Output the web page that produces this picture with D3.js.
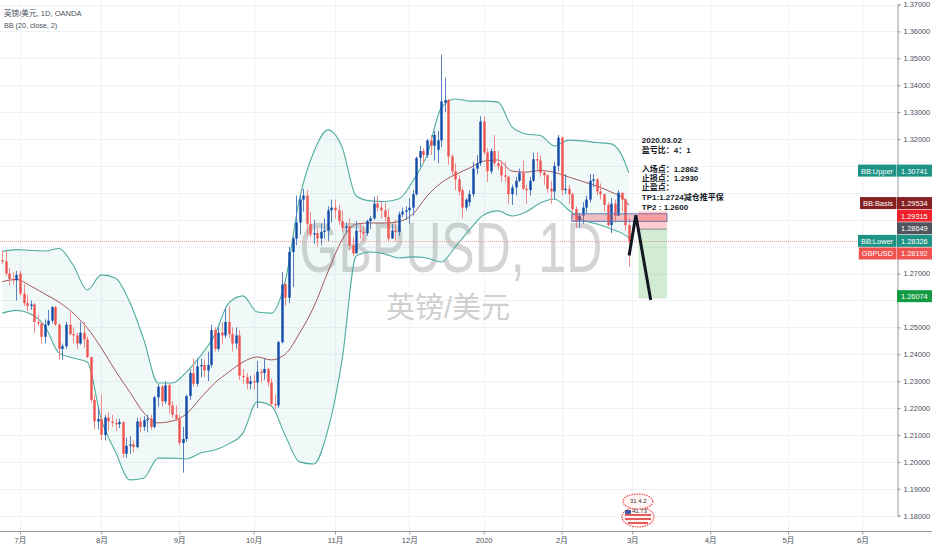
<!DOCTYPE html>
<html><head><meta charset="utf-8">
<script src="https://cdn.jsdelivr.net/npm/d3@7/dist/d3.min.js"></script>
<style>
html,body{margin:0;padding:0;background:#fff;}
svg{display:block;}
text{font-family:"Liberation Sans","Noto Sans CJK SC",sans-serif;}
</style></head><body>
<svg id="chart" width="932" height="550"></svg>
<script>
// ---------------- DATA ----------------
const symbolTitle = "英镑/美元, 1D, OANDA";
const indicatorTitle = "BB (20, close, 2)";
const watermarkMain = "GBPUSD, 1D";
const watermarkSub = "英镑/美元";
const firstDate = "2019-06-24";
const holidays = ["2019-12-25", "2020-01-01"];
const monthLabels = ["7月","8月","9月","10月","11月","12月","2020","2月","3月","4月","5月","6月"];
const priceTicks = [1.18,1.19,1.20,1.21,1.22,1.23,1.24,1.25,1.26,1.27,1.28,1.29,1.30,1.31,1.32,1.33,1.34,1.35,1.36,1.37];

const opens = [1.2750,1.2745,1.2700,1.2680,1.2675,1.2700,1.2625,1.2590,1.2580,1.2585,1.2520,1.2515,1.2465,1.2510,1.2525,1.2575,1.2510,1.2420,1.2430,1.2510,1.2475,1.2470,1.2440,1.2480,1.2455,1.2390,1.2230,1.2150,
1.2160,1.2100,1.2165,1.2150,1.2145,1.2140,1.2148,1.2030,1.2060,1.2065,1.2055,1.2150,1.2130,1.2155,1.2160,1.2130,1.2240,1.2280,1.2225,1.2285,1.2210,1.2175,
1.2160,1.2070,1.2085,1.2245,1.2330,1.2290,1.2355,1.2360,1.2340,1.2360,1.2490,1.2420,1.2480,1.2470,1.2520,1.2475,1.2440,1.2470,1.2320,1.2315,1.2290,
1.2300,1.2295,1.2335,1.2330,1.2345,1.2295,1.2215,1.2210,1.2445,1.2660,1.2610,1.2780,1.2830,1.2890,1.2975,1.2990,1.2885,1.2845,1.2850,1.2830,1.2855,1.2860,1.2935,
1.2945,1.2935,1.2895,1.2870,1.2875,1.2805,1.2775,1.2860,1.2855,1.2850,1.2895,1.2905,1.2960,1.2945,1.2935,1.2910,1.2830,1.2860,1.2855,1.2920,1.2930,
1.2935,1.2945,1.2995,1.3130,1.3155,1.3140,1.3195,1.3175,1.3160,1.3195,1.3335,1.3345,1.3135,1.3080,1.3050,1.3010,1.2945,1.2965,1.2995,1.3090,1.3110,
1.3265,1.3150,1.3080,1.3155,1.3110,1.3100,1.3065,1.3060,1.2995,1.3020,1.3045,1.3075,1.3015,1.3010,1.3045,1.3125,1.3120,1.3075,1.3065,1.3015,1.3005,1.3100,
1.3205,1.3010,1.3015,1.2995,1.2940,1.2895,1.2915,1.2945,1.2975,1.3045,1.3050,1.3005,1.2995,1.2955,1.2880,1.2960,1.2915,1.3000,1.2975,1.2880];
const highs = [1.2785,1.2785,1.2720,1.2705,1.2710,1.2710,1.2660,1.2620,1.2600,1.2590,1.2545,1.2520,1.2530,1.2565,1.2580,1.2580,1.2515,1.2440,1.2520,1.2555,1.2500,1.2480,1.2520,1.2520,1.2465,1.2390,1.2250,1.2205,
1.2250,1.2175,1.2185,1.2175,1.2160,1.2160,1.2150,1.2090,1.2095,1.2080,1.2165,1.2165,1.2170,1.2175,1.2175,1.2245,1.2290,1.2285,1.2300,1.2290,1.2225,1.2210,
1.2175,1.2130,1.2250,1.2345,1.2385,1.2385,1.2385,1.2380,1.2410,1.2510,1.2500,1.2500,1.2520,1.2570,1.2580,1.2500,1.2500,1.2490,1.2345,1.2330,1.2320,
1.2325,1.2375,1.2345,1.2385,1.2350,1.2310,1.2250,1.2450,1.2705,1.2665,1.2800,1.2840,1.2990,1.2990,1.3015,1.3010,1.2930,1.2900,1.2870,1.2885,1.2905,1.2950,1.2975,
1.2975,1.2955,1.2935,1.2890,1.2905,1.2835,1.2895,1.2885,1.2875,1.2900,1.2915,1.2985,1.2990,1.2965,1.2965,1.2940,1.2885,1.2900,1.2930,1.2945,1.2950,
1.2980,1.3010,1.3135,1.3175,1.3165,1.3200,1.3215,1.3230,1.3230,1.3514,1.3428,1.3350,1.3145,1.3110,1.3065,1.3020,1.2980,1.3010,1.3115,1.3140,1.3285,
1.3285,1.3165,1.3165,1.3215,1.3155,1.3120,1.3115,1.3060,1.3030,1.3060,1.3090,1.3120,1.3030,1.3060,1.3150,1.3150,1.3140,1.3085,1.3070,1.3045,1.3115,1.3215,
1.3210,1.3070,1.3030,1.3000,1.2950,1.2925,1.2965,1.2990,1.3070,1.3070,1.3055,1.3035,1.2995,1.2965,1.2980,1.2975,1.3010,1.3000,1.2980,1.2905];
const lows = [1.2735,1.2690,1.2655,1.2660,1.2600,1.2615,1.2580,1.2560,1.2565,1.2480,1.2505,1.2440,1.2440,1.2505,1.2515,1.2505,1.2380,1.2380,1.2420,1.2470,1.2440,1.2420,1.2435,1.2425,1.2385,1.2220,1.2120,1.2120,
1.2080,1.2080,1.2115,1.2130,1.2115,1.2125,1.2015,1.2015,1.2030,1.2035,1.2050,1.2110,1.2115,1.2110,1.2120,1.2125,1.2205,1.2205,1.2215,1.2180,1.2165,1.2150,
1.2060,1.1960,1.2075,1.2230,1.2280,1.2280,1.2315,1.2315,1.2300,1.2350,1.2410,1.2410,1.2440,1.2460,1.2460,1.2410,1.2420,1.2305,1.2290,1.2270,1.2270,
1.2270,1.2200,1.2295,1.2305,1.2280,1.2205,1.2195,1.2200,1.2440,1.2580,1.2590,1.2650,1.2805,1.2845,1.2930,1.2840,1.2835,1.2810,1.2800,1.2805,1.2830,1.2820,1.2890,
1.2905,1.2880,1.2855,1.2850,1.2785,1.2765,1.2775,1.2830,1.2820,1.2840,1.2865,1.2900,1.2930,1.2905,1.2895,1.2820,1.2830,1.2820,1.2840,1.2910,1.2900,
1.2885,1.2915,1.2990,1.3095,1.3110,1.3130,1.3140,1.3120,1.3110,1.3170,1.3300,1.3105,1.3065,1.3010,1.2990,1.2905,1.2935,1.2950,1.2985,1.3070,1.3100,
1.3140,1.3040,1.3070,1.3100,1.3085,1.3040,1.3040,1.2960,1.2955,1.2990,1.3040,1.3010,1.2960,1.2990,1.3040,1.3085,1.3060,1.3030,1.3000,1.2960,1.2975,1.3080,
1.2990,1.2995,1.2960,1.2905,1.2870,1.2870,1.2885,1.2925,1.2965,1.3020,1.2990,1.2975,1.2930,1.2875,1.2850,1.2890,1.2915,1.2930,1.2860,1.2725];
const closes = [1.2745,1.2700,1.2680,1.2675,1.2695,1.2625,1.2590,1.2580,1.2585,1.2520,1.2515,1.2465,1.2510,1.2525,1.2575,1.2510,1.2420,1.2430,1.2510,1.2475,1.2470,1.2440,1.2480,1.2455,1.2390,1.2230,1.2150,1.2160,
1.2100,1.2165,1.2150,1.2145,1.2140,1.2148,1.2030,1.2060,1.2065,1.2055,1.2150,1.2130,1.2155,1.2160,1.2130,1.2240,1.2280,1.2225,1.2285,1.2210,1.2175,1.2160,
1.2070,1.2085,1.2245,1.2330,1.2290,1.2355,1.2360,1.2340,1.2360,1.2490,1.2420,1.2480,1.2470,1.2520,1.2475,1.2440,1.2470,1.2320,1.2315,1.2290,1.2300,
1.2295,1.2335,1.2330,1.2345,1.2295,1.2215,1.2210,1.2445,1.2660,1.2610,1.2780,1.2830,1.2890,1.2975,1.2990,1.2885,1.2845,1.2850,1.2830,1.2855,1.2860,1.2935,1.2945,
1.2935,1.2895,1.2870,1.2875,1.2805,1.2775,1.2860,1.2855,1.2850,1.2895,1.2905,1.2960,1.2945,1.2935,1.2910,1.2830,1.2860,1.2855,1.2920,1.2930,1.2935,
1.2945,1.2995,1.3130,1.3155,1.3140,1.3195,1.3175,1.3215,1.3195,1.3340,1.3345,1.3135,1.3080,1.3050,1.3005,1.2945,1.2975,1.2995,1.3090,1.3110,1.3265,
1.3150,1.3080,1.3155,1.3110,1.3100,1.3065,1.3060,1.2995,1.3020,1.3045,1.3075,1.3015,1.3010,1.3045,1.3125,1.3120,1.3075,1.3065,1.3015,1.3005,1.3100,1.3205,
1.3010,1.3015,1.2995,1.2940,1.2895,1.2915,1.2945,1.2975,1.3045,1.3050,1.3005,1.2995,1.2955,1.2880,1.2960,1.2915,1.3000,1.2975,1.2880,1.28192];

const bbIdx = [0,4,8,12,16,20,24,28,32,36,40,44,48,52,56,60,64,68,72,76,80,84,88,92,96,100,104,108,112,116,120,124,128,132,136,140,144,148,152,156,160,164,168,172,176,177];
const bbUpper = [1.2782,1.2789,1.2786,1.2784,1.2793,1.2732,1.2639,1.2695,1.2683,1.2594,1.2453,1.2293,1.2293,1.2334,1.2394,1.2472,1.2591,1.2617,1.2557,1.2553,1.2676,1.2981,1.3152,1.3234,1.3170,1.2988,1.2970,1.2968,1.2977,1.3044,1.3141,1.3315,1.3349,1.3341,1.3341,1.3338,1.3245,1.3219,1.3213,1.3174,1.3196,1.3193,1.3187,1.3182,1.3111,1.30741];
const bbBasis = [1.2670,1.2678,1.2654,1.2624,1.2594,1.2553,1.2498,1.2423,1.2338,1.2260,1.2182,1.2145,1.2152,1.2178,1.2237,1.2293,1.2334,1.2371,1.2390,1.2379,1.2401,1.2479,1.2576,1.2706,1.2825,1.2884,1.2888,1.2888,1.2893,1.2921,1.2988,1.3037,1.3068,1.3092,1.3118,1.3122,1.3081,1.3077,1.3083,1.3076,1.3059,1.3042,1.3025,1.3003,1.2973,1.29534];
const bbLower = [1.2553,1.2563,1.2550,1.2505,1.2405,1.2386,1.2371,1.2156,1.2037,1.1933,1.1940,1.2014,1.2014,1.2011,1.2033,1.2044,1.2067,1.2107,1.2223,1.2208,1.2096,1.2000,1.1992,1.2119,1.2379,1.2765,1.2780,1.2773,1.2758,1.2762,1.2758,1.2743,1.2799,1.2862,1.2918,1.2933,1.2914,1.2929,1.2962,1.2977,1.2936,1.2899,1.2884,1.2866,1.2843,1.28326];

// drawings (bar index, price)
const entryPrice = 1.28649, stopPrice = 1.29315, targetPrice = 1.26074;
const posFromIdx = 179.7, posToIdx = 187.8;
const zoneFromIdx = 160.9, zoneToIdx = 187.8, zoneTop = 1.2922, zoneBottom = 1.2894;
const arrowIdx = [177.1, 179.0, 183.2];
const arrowPrice = [1.2767, 1.2917, 1.2602];
const noteIdx = 180.7, notePrice = 1.3184;
const noteLines = ["2020.03.02","盈亏比：4：1","","入场点：1.2862","止损点：1.2930","止盈点：","TP1:1.2724减仓推平保","TP2 : 1.2600"];
const badgeTop = "31 4.2", badgeBottom = "41.73";

// ---------------- CHART ----------------
const svg = d3.select("#chart");
const W = 932, H = 550, plotR = 897, plotB = 531;

// trading days (weekdays, minus holidays)
const dates = [];
{
  const hs = new Set(holidays);
  const d = new Date(firstDate + "T00:00:00Z");
  const end = new Date("2020-06-30T00:00:00Z");
  while (d <= end) {
    const wd = d.getUTCDay();
    const s = d.toISOString().slice(0, 10);
    if (wd !== 0 && wd !== 6 && !hs.has(s)) dates.push(s);
    d.setUTCDate(d.getUTCDate() + 1);
  }
}
const monthIdx = [];
dates.forEach((s, i) => { if (i > 0 && s.slice(5, 7) !== dates[i - 1].slice(5, 7)) monthIdx.push(i); });

const x = d3.scaleLinear().domain([5, 178]).range([20, 632.3]);
const y = d3.scaleLinear().domain([1.18, 1.37]).range([515.7, 4.5]);

svg.append("rect").attr("width", W).attr("height", H).attr("fill", "#ffffff");
svg.append("clipPath").attr("id", "clip").append("rect").attr("x", 0).attr("y", 0).attr("width", plotR).attr("height", plotB);
const plot = svg.append("g").attr("clip-path", "url(#clip)");

// grid
const gridCol = "#eef1f5";
plot.append("g").selectAll("line").data(priceTicks).join("line")
  .attr("x1", 0).attr("x2", plotR)
  .attr("y1", d => Math.round(y(d)) + 0.5).attr("y2", d => Math.round(y(d)) + 0.5)
  .attr("stroke", gridCol).attr("stroke-width", 1);
plot.append("g").selectAll("line").data(monthIdx.slice(0, monthLabels.length)).join("line")
  .attr("y1", 0).attr("y2", plotB)
  .attr("x1", d => Math.round(x(d)) + 0.5).attr("x2", d => Math.round(x(d)) + 0.5)
  .attr("stroke", gridCol).attr("stroke-width", 1);

// watermark (horizontally condensed by a transform so its box matches the glyphs)
const wmG = plot.append("g");
const wmT = wmG.append("text").attr("x", 0).attr("y", 0).attr("text-anchor", "middle")
  .attr("font-size", 70).attr("fill", "#d4d4d4").attr("font-family", "Roboto, sans-serif")
  .text(watermarkMain);
const wmW = wmT.node().getComputedTextLength();
wmG.attr("transform", `translate(451,272) scale(${303 / wmW},1)`);
plot.append("text").attr("x", 448).attr("y", 318).attr("text-anchor", "middle")
  .attr("font-size", 29).attr("fill", "#cfcfcf").attr("font-family", "'Noto Sans CJK SC', sans-serif")
  .text(watermarkSub);

// Bollinger bands
const bbK = d3.range(bbIdx.length);
const curve = d3.curveMonotoneX;
plot.append("path").datum(bbK)
  .attr("d", d3.area().curve(curve).x(k => x(bbIdx[k])).y0(k => y(bbLower[k])).y1(k => y(bbUpper[k])))
  .attr("fill", "rgba(38,166,154,0.07)");
[[bbUpper, "#4fae9f"], [bbLower, "#4fae9f"], [bbBasis, "#9b4545"]].forEach(([arr, col]) => {
  plot.append("path").datum(bbK)
    .attr("d", d3.line().curve(curve).x(k => x(bbIdx[k])).y(k => y(arr[k])))
    .attr("fill", "none").attr("stroke", col).attr("stroke-width", arr === bbBasis ? 0.9 : 1.1);
});

// last price dotted line
const lastClose = closes[closes.length - 1];
plot.append("line").attr("x1", 0).attr("x2", plotR)
  .attr("y1", Math.round(y(lastClose)) + 0.5).attr("y2", Math.round(y(lastClose)) + 0.5)
  .attr("stroke", "#f59a9a").attr("stroke-width", 1).attr("stroke-dasharray", "1,1");

// candles
const idx = d3.range(closes.length);
const bw = 2.4;
const upCol = "#0f4aa8", dnCol = "#ef5350";
plot.append("g").selectAll("line").data(idx).join("line")
  .attr("x1", i => Math.round(x(i)) + 0.5).attr("x2", i => Math.round(x(i)) + 0.5)
  .attr("y1", i => y(highs[i])).attr("y2", i => y(lows[i]))
  .attr("stroke", i => closes[i] >= opens[i] ? "#5a80c4" : "#f08a88").attr("stroke-width", 1);
plot.append("g").selectAll("rect").data(idx).join("rect")
  .attr("x", i => Math.round(x(i)) + 0.5 - bw / 2).attr("width", bw)
  .attr("y", i => y(Math.max(opens[i], closes[i])))
  .attr("height", i => Math.max(1, Math.abs(y(opens[i]) - y(closes[i]))))
  .attr("fill", i => closes[i] >= opens[i] ? upCol : dnCol);

// rectangle zone drawing
plot.append("rect")
  .attr("x", x(zoneFromIdx)).attr("width", x(zoneToIdx) - x(zoneFromIdx))
  .attr("y", y(zoneTop)).attr("height", y(zoneBottom) - y(zoneTop))
  .attr("fill", "rgba(242,80,90,0.35)").attr("stroke", "#5b7fbf").attr("stroke-width", 1);

// short position tool
plot.append("rect").attr("x", x(posFromIdx)).attr("width", x(posToIdx) - x(posFromIdx))
  .attr("y", y(stopPrice)).attr("height", y(entryPrice) - y(stopPrice))
  .attr("fill", "rgba(242,54,69,0.25)");
plot.append("rect").attr("x", x(posFromIdx)).attr("width", x(posToIdx) - x(posFromIdx))
  .attr("y", y(entryPrice)).attr("height", y(targetPrice) - y(entryPrice))
  .attr("fill", "rgba(76,175,80,0.25)");
plot.append("line").attr("x1", x(posFromIdx)).attr("x2", x(posToIdx))
  .attr("y1", y(entryPrice)).attr("y2", y(entryPrice)).attr("stroke", "#8a8f99").attr("stroke-width", 1);

// arrow drawing
plot.append("path").datum(d3.range(arrowIdx.length))
  .attr("d", d3.line().x(k => x(arrowIdx[k])).y(k => y(arrowPrice[k])))
  .attr("fill", "none").attr("stroke", "#131722").attr("stroke-width", 3).attr("stroke-linejoin", "miter");

// note (one text per line)
const noteG = plot.append("g");
noteLines.forEach((t, k) => {
  if (!t) return;
  noteG.append("text").attr("x", x(noteIdx)).attr("y", y(notePrice) + k * 9.4 + (k === noteLines.length - 1 ? 0.8 : 0))
    .attr("font-size", 8.0).attr("font-weight", "bold").attr("fill", "#131722").text(t);
});

// badge (bottom)
const st = plot.append("g").attr("transform", "translate(638,509)");
st.append("ellipse").attr("cx", 0).attr("cy", 8).attr("rx", 16).attr("ry", 10)
  .attr("fill", "#fff5f5").attr("stroke", "#e84c4c").attr("stroke-width", 1.2).attr("stroke-dasharray", "1.5,1");
st.append("ellipse").attr("cx", 0).attr("cy", -7.5).attr("rx", 15).attr("ry", 7.5)
  .attr("fill", "#fff5f5").attr("stroke", "#e84c4c").attr("stroke-width", 1.2).attr("stroke-dasharray", "1.5,1");
st.append("rect").attr("x", -13).attr("y", 1).attr("width", 6).attr("height", 4).attr("fill", "#3d5aa8");
st.append("rect").attr("x", -13).attr("y", 5).attr("width", 26).attr("height", 2).attr("fill", "#e85a5a");
st.append("rect").attr("x", -13).attr("y", 9).attr("width", 26).attr("height", 2).attr("fill", "#e85a5a");
st.append("rect").attr("x", -10).attr("y", 13).attr("width", 20).attr("height", 2).attr("fill", "#e85a5a");
st.append("text").attr("x", -8).attr("y", -6).attr("font-size", 6).attr("fill", "#333").text(badgeTop);
st.append("text").attr("x", -6).attr("y", 4).attr("font-size", 6).attr("fill", "#333").text(badgeBottom);

// ---------------- AXES ----------------
svg.append("rect").attr("x", plotR).attr("y", 0).attr("width", W - plotR).attr("height", H).attr("fill", "#fff");
svg.append("rect").attr("x", 0).attr("y", plotB).attr("width", W).attr("height", H - plotB).attr("fill", "#fff");

// value labels on price scale (positions de-overlapped)
const vLabels = [
  {v: bbUpper[bbUpper.length - 1], col: "#1f9386", tag: "BB:Upper"},
  {v: bbBasis[bbBasis.length - 1], col: "#862020", tag: "BB:Basis"},
  {v: stopPrice, col: "#f0222b", tag: null},
  {v: entryPrice, col: "#50545e", tag: null},
  {v: bbLower[bbLower.length - 1], col: "#1f9386", tag: "BB:Lower"},
  {v: lastClose, col: "#ef5350", tag: "GBPUSD"},
  {v: targetPrice, col: "#139a43", tag: null}
].sort((a, b) => b.v - a.v);
const lh = 12.6;
let prev = -1e9;
vLabels.forEach(l => { let c = y(l.v); if (c < prev + lh) c = prev + lh; l.c = c; prev = c; });
vLabels.forEach(l => l.c -= 2);

// axis tick labels hidden where a value label sits
const visibleTicks = priceTicks.filter(t => vLabels.every(l => Math.abs(y(t) - l.c) > lh * 0.95));
const yAxis = svg.append("g").attr("transform", `translate(${plotR + 0.5},0)`)
  .call(d3.axisRight(y).tickValues(visibleTicks).tickFormat(d3.format(".5f")).tickSize(3).tickPadding(3));
yAxis.select(".domain").attr("stroke", "#9598a1");
yAxis.selectAll(".tick line").attr("stroke", "#9598a1");
yAxis.selectAll(".tick text").attr("font-size", 7.4).attr("fill", "#4a4f5a").attr("font-family", "'Liberation Sans', sans-serif");

const xAxis = svg.append("g").attr("transform", `translate(0,${plotB + 0.5})`)
  .call(d3.axisBottom(x).tickValues(monthIdx.slice(0, monthLabels.length)).tickFormat((d, i) => monthLabels[i]).tickSize(3).tickPadding(3));
xAxis.select(".domain").attr("d", `M0,0H${W}`).attr("stroke", "#9598a1");
xAxis.selectAll(".tick line").attr("stroke", "#9598a1");
xAxis.selectAll(".tick text").attr("font-size", 7.6).attr("fill", "#4a4f5a").attr("font-family", "'Liberation Sans','Noto Sans CJK SC', sans-serif");

const vl = svg.append("g");
vLabels.forEach(l => {
  vl.append("rect").attr("x", plotR).attr("y", l.c - lh / 2).attr("width", W - plotR).attr("height", lh - 0.6).attr("fill", l.col);
  vl.append("text").attr("x", plotR + 4).attr("y", l.c + 2.6).attr("font-size", 7.4).attr("fill", "#fff")
    .attr("font-family", "'Liberation Sans', sans-serif").text(d3.format(".5f")(l.v));
  if (l.tag) {
    const t = vl.append("text").attr("x", plotR - 4).attr("y", l.c + 2.6).attr("text-anchor", "end")
      .attr("font-size", 7.4).attr("fill", "#fff").attr("font-family", "'Liberation Sans', sans-serif").text(l.tag);
    const w = t.node().getComputedTextLength();
    vl.insert("rect", () => t.node()).attr("x", plotR - w - 7).attr("y", l.c - lh / 2).attr("width", w + 6.5).attr("height", lh - 0.6).attr("fill", l.col);
  }
});

// legend
svg.append("text").attr("x", 4).attr("y", 15.5).attr("font-size", 7.6).attr("fill", "#4c525e")
  .attr("font-family", "'DejaVu Sans Mono','Noto Sans CJK SC', monospace").text(symbolTitle);
svg.append("text").attr("x", 4).attr("y", 27.5).attr("font-size", 7.2).attr("fill", "#4c525e")
  .attr("font-family", "'DejaVu Sans Mono', monospace").text(indicatorTitle);
</script>
</body></html>
